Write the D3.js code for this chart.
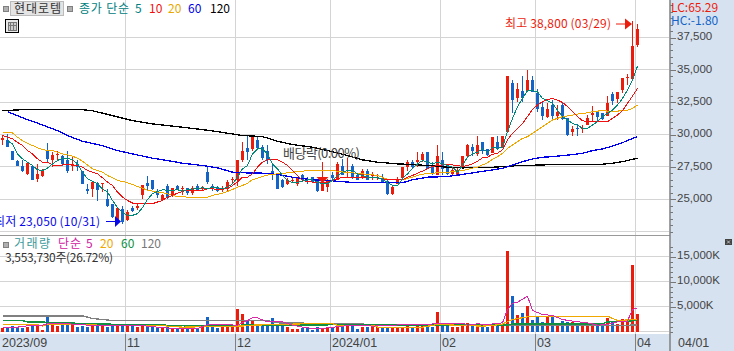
<!DOCTYPE html>
<html>
<head>
<meta charset="utf-8">
<script src="https://cdn.jsdelivr.net/npm/d3@7"></script>
<style>
html, body { margin: 0; padding: 0; background: #fff; overflow: hidden; }
svg { display: block; }
text { font-family: "Noto Sans CJK KR", "Liberation Sans", sans-serif; }
</style>
</head>
<body>
<svg id="chart" width="734" height="351"></svg>
<script>
// daily candles, 128 sessions
var opens = [
  29550,29550,28700,27950,27550,26950,27550,26550,26800,28700,
  28000,28450,28300,28050,27600,27750,27200,25750,25750,26250,
  26200,25050,24600,23350,24250,23400,24350,24300,25300,26250,
  26450,25600,24950,26000,25300,26000,25800,25850,25500,26050,
  25750,27100,26000,25950,25750,25850,26450,26500,28050,28950,
  28900,29550,29050,28750,27200,26850,26450,26150,26450,26200,
  26850,26550,26700,26450,25600,25950,26850,26500,27550,27150,
  27600,26850,26650,27200,26850,26850,26650,26400,25400,26200,
  26650,27450,27850,27850,28050,28650,27600,26900,28050,27600,
  26950,26900,27450,28300,29050,28500,29450,28900,28600,29450,
  29000,30200,34000,32800,33400,33400,34200,33200,32150,31350,
  32250,31450,32250,31300,30200,30500,30400,30750,31500,31800,
  31650,31450,33100,32750,33450,34350,34300,36900];
var highs = [
  30000,30050,28750,28050,28000,27800,27650,27700,27350,29350,
  28650,28750,28450,28700,28350,28050,27200,26200,26400,26300,
  26250,25750,24600,24350,24500,24150,24500,24600,26100,26800,
  26500,25800,25400,26200,25850,26100,26000,25900,26050,26150,
  26050,27450,26200,26050,26000,26450,26750,28050,29400,29900,
  29900,29900,29200,29200,27700,26950,26550,26650,26650,26700,
  26950,26700,26750,26500,27850,26550,27100,27850,28100,28200,
  27700,26950,27350,27350,27100,26950,26950,26500,26000,26700,
  27500,28050,28050,28650,28650,28650,27850,29200,28650,27700,
  27450,27400,28350,29250,29300,29900,29450,28900,29800,29900,
  29900,34500,34200,33950,34500,35000,34500,33500,32550,32400,
  32700,32300,32400,31300,30650,30800,30750,31500,32200,31800,
  31700,32950,33250,33300,34400,34650,38800,38550];
var lows = [
  29150,29050,28000,27550,27100,26900,26450,26300,26750,27800,
  27450,28050,27600,27000,27150,27200,26150,25400,25150,24850,
  25550,24400,23550,23100,23050,23350,24000,24200,25000,25700,
  25700,25100,24850,25050,25150,25750,25350,25350,25350,25600,
  25600,26200,25600,25550,25550,25550,26250,26050,27850,28000,
  28700,28900,28050,27750,26450,25750,25900,26100,26250,26050,
  26450,26150,26250,25550,25600,25550,26500,26450,26850,26700,
  26550,26450,26550,26450,26500,26500,26250,25300,25350,26150,
  26500,27200,27400,27450,27850,27350,26850,26850,26850,26900,
  26900,26850,27350,28200,28350,28300,28500,28300,28600,28800,
  29000,30200,31650,32550,32550,33300,33250,31750,31100,31250,
  31050,31150,31100,29900,29900,29900,30150,30700,31050,31000,
  31100,31400,32250,32450,33200,33800,34200,36800];
var closes = [
  29750,29050,28050,27600,27150,27800,26500,26950,27200,28100,
  28450,28500,27700,27200,27700,27450,26150,25600,26300,25700,
  26250,24450,23600,24350,23250,24000,24100,24500,26100,26000,
  25750,25300,25300,25100,25850,25800,25900,25450,25900,25700,
  25950,26300,25750,25600,25800,26350,26550,28050,28700,28650,
  29900,28950,28150,28000,26850,25750,25950,26450,26500,26650,
  26500,26450,26300,25600,26200,26500,26650,27750,26900,27250,
  26650,26500,27200,26500,26900,26900,26300,25400,25950,26500,
  27450,27850,27450,28000,28500,27350,26950,28350,27350,26950,
  27250,27200,28350,29150,28750,29200,28750,28450,29800,28950,
  29900,34500,32700,33500,32850,34200,33300,32000,31400,31950,
  31450,31750,31200,29950,30450,30400,30500,31250,31700,31350,
  31200,32450,32600,33250,34400,34450,36850,38150];

// price moving averages, one reading per session
var ma5 = [
  null,29530,29270,28500,28120,27860,27600,27270,27220,27400,
  27730,27990,28170,28170,28040,27730,27090,26580,26370,26190,
  25800,25550,24900,24340,23950,23750,23750,23880,24340,24980,
  25420,25600,25730,25680,25680,25730,25620,25750,25780,25830,
  25880,25800,25930,25880,25800,25930,26190,26700,27350,27600,
  28500,28890,28890,28500,27730,27350,26830,26450,26270,26290,
  26400,26500,26500,26320,26190,26190,26450,26830,27090,27220,
  27220,26960,26830,26700,26700,26650,26580,26270,26060,26060,
  26580,26960,27350,27730,27990,27860,27730,27860,27730,27600,
  27470,27090,27600,28250,28500,28630,28890,28630,29010,28930,
  29010,30220,31250,32150,32790,33380,33380,33310,32790,32610,
  32410,31890,31380,31120,30860,30730,30480,30480,30730,30990,
  31380,31630,31890,32280,32790,33430,34210,35290];
var ma10 = [
  29920,29790,29660,29400,29150,28760,28500,28120,27860,27860,
  27650,27600,27650,27680,27650,27600,27470,27220,27090,26960,
  26650,26320,26060,25550,25160,24900,24700,24650,24650,24650,
  24650,24780,24900,25160,25290,25470,25600,25680,25680,25680,
  25680,25800,25800,25750,25800,25800,26060,26320,26700,26700,
  26960,27470,27860,28040,28040,28040,27860,27600,27220,26830,
  26450,26370,26320,26320,26320,26320,26450,26580,26700,26700,
  26700,26650,26650,26650,26650,26650,26580,26500,26500,26500,
  26500,26700,26830,27010,27170,27350,27530,27600,27650,27680,
  27650,27600,27530,27600,27730,27940,28190,28250,28470,28550,
  28810,29580,30090,30480,30860,31380,31940,32280,32530,32710,
  32790,32660,32480,32150,31760,31380,31070,30990,30990,30990,
  30990,30990,31250,31510,31840,32410,32970,33560];
var ma20 = [
  30170,30170,30120,29790,29530,29320,29150,28970,28840,28760,
  28760,28630,28500,28430,28320,28170,27940,27650,27350,27220,
  27090,26830,26650,26450,26370,26270,26140,25980,25860,25680,
  25620,25550,25500,25420,25290,25210,25190,25160,25110,25110,
  25110,25160,25290,25370,25470,25600,25750,25930,26060,26240,
  26500,26630,26750,26860,26910,26960,26990,27040,27090,27140,
  27170,27190,27220,27220,27220,27220,27190,27170,27110,27060,
  27040,26990,26960,26910,26880,26830,26700,26520,26500,26500,
  26500,26600,26700,26830,26930,26990,27010,27040,27090,27090,
  27110,27170,27220,27290,27400,27470,27650,27810,28080,28290,
  28550,28930,29190,29450,29700,29830,30090,30350,30600,30860,
  31120,31250,31380,31430,31500,31580,31630,31680,31760,31810,
  31840,31810,31810,31810,31840,31890,32020,32280];
// long averages move slowly, so [session, price] readings are enough
var ma60 = [
  [1,31770],[5,31150],[8,30740],[11,30300],[13,29910],[16,29480],[20,29140],[23,28760],
  [26,28500],[30,28170],[33,27990],[36,27780],[40,27600],[43,27420],[46,27090],[48,27040],
  [52,27010],[55,26910],[58,26700],[62,26500],[65,26450],[69,26320],[72,26270],[77,26270],
  [80,26270],[82,26500],[85,26700],[89,26750],[92,26910],[95,27090],[98,27260],[100,27390],
  [102,27650],[104,27900],[106,28110],[108,28240],[110,28290],[112,28370],[114,28440],
  [116,28550],[118,28750],[120,28880],[122,29110],[124,29370],[126,29700],[127,29830]];
var ma120 = [
  [0,31840],[4,31920],[16,31920],[18,31840],[22,31460],[26,31070],[30,30820],[33,30690],
  [36,30560],[40,30380],[43,30220],[46,30040],[48,29920],[52,29840],[55,29480],[58,29220],
  [62,29020],[65,28760],[69,28370],[72,28040],[75,27860],[79,27730],[82,27680],[85,27600],
  [89,27470],[92,27420],[97,27440],[102,27570],[108,27650],[120,27700],[122,27780],
  [124,27900],[126,28080],[127,28160]];

// volume in thousands of shares
var volumes = [
  800,930,1200,870,800,870,1200,1070,400,3400,
  1800,1070,1730,1400,1530,1000,1070,1000,1070,1070,
  1270,1000,1600,1270,1600,1070,1270,870,1600,1070,
  870,870,930,870,670,670,670,670,670,730,
  870,3000,870,800,870,870,870,4600,3600,2400,
  2070,1200,1270,1270,2730,1270,1270,1000,600,600,
  730,670,400,1000,730,730,730,1270,870,1800,
  1070,600,1000,1000,870,870,870,800,800,870,
  870,1600,870,1600,1070,1000,1000,4000,1600,1070,
  870,870,1800,1800,1270,1530,1000,870,1600,1270,
  1600,16200,7200,3400,3800,5200,2400,3200,2000,3070,
  3200,1600,2070,1930,1930,1600,1070,1600,1600,1270,
  1070,2730,1930,1530,2600,2270,13400,3550];
var vol5 = [
  [0,870],[3,870],[6,1270],[8,1270],[9,1530],[13,1530],[16,1400],[17,1270],[27,1270],[31,870],
  [34,600],[39,600],[41,1330],[45,1330],[47,1270],[49,2200],[50,2730],[51,2730],[53,1930],[56,1930],
  [58,1270],[60,870],[62,600],[63,530],[65,730],[68,1070],[70,1270],[72,1270],[74,1070],[78,1270],
  [87,1530],[92,1670],[93,1270],[95,1530],[97,1400],[100,1730],[101,4400],[102,5600],[103,5870],[105,7070],
  [106,4200],[108,3400],[110,3200],[112,2400],[114,2070],[117,1730],[119,1270],[121,1400],[123,1930],
  [125,2070],[126,4400],[127,4730]];
var vol20 = [
  [0,1400],[7,1400],[8,1070],[9,1400],[18,1400],[19,1270],[32,1270],[33,1070],[36,870],[48,1100],
  [50,1270],[60,1530],[66,1530],[67,1270],[74,1270],[75,870],[84,870],[87,1400],[96,1070],[98,1200],
  [100,1500],[102,2400],[105,2930],[110,3070],[121,3070],[123,2200],[127,2400]];
var vol60 = [
  [0,2200],[4,2200],[5,1930],[8,1930],[9,1730],[14,1730],[15,1530],[21,1530],[22,1400],[32,1400],
  [33,1200],[36,1200],[37,1070],[46,1070],[48,1270],[64,1270],[66,1400],[70,1400],[73,1270],[101,1270],
  [102,1530],[120,1530],[121,1930],[127,2200]];
var vol120 = [
  [0,3130],[16,3130],[18,2600],[22,2200],[53,2200],[55,1730],[72,1530],[73,1270],[120,1270],[122,1200],[127,1300]];

var monthIdx = [0,25,47,66,88,107,127];
var monthLabels = ["2023/09","11","12","2024/01","02","03","04"];
var priceMajor = [37500,35000,32500,30000,27500,25000];

var red = "#ec1c0c", blue = "#1464c8", panel = "#d6e2f0", grid = "#d4d4d4", ink = "#444";

var svg = d3.select("#chart");

var x = d3.scaleBand().domain(d3.range(128)).range([0,640]);
var cx = function(i) { return x(i) + 2.5; };
var y = d3.scaleLinear().domain([22500,37500]).range([231.5,37.5]);
var yv = d3.scaleLinear().domain([0,15000]).range([331.5,256.5]);

// axis panels
svg.append("rect").attr("x",670).attr("y",0).attr("width",64).attr("height",351).attr("fill",panel);
svg.append("rect").attr("x",0).attr("y",334).attr("width",670).attr("height",17).attr("fill",panel);

// grid
var gridG = svg.append("g").attr("stroke",grid).attr("shape-rendering","crispEdges");
gridG.selectAll(".hp").data(priceMajor.concat([22500])).enter().append("line")
  .attr("x1",0).attr("x2",669).attr("y1",function(d){return y(d);}).attr("y2",function(d){return y(d);});
gridG.selectAll(".hv").data([15000,10000,5000,0]).enter().append("line")
  .attr("x1",0).attr("x2",669).attr("y1",function(d){return yv(d);}).attr("y2",function(d){return yv(d);});
gridG.selectAll(".vg").data(monthIdx.slice(1)).enter().append("line")
  .attr("x1",function(d){return x(d)+0.5;}).attr("x2",function(d){return x(d)+0.5;})
  .attr("y1",0).attr("y2",334).attr("stroke-width",1);

svg.append("line").attr("x1",0).attr("x2",670).attr("y1",235.5).attr("y2",235.5)
  .attr("stroke","#999").attr("stroke-width",1).attr("shape-rendering","crispEdges");

// candles
var isUp = function(i) { return closes[i] >= opens[i]; };
var candles = svg.append("g").attr("shape-rendering","crispEdges");
var candle = candles.selectAll("g").data(d3.range(128)).enter().append("g")
  .attr("fill",function(i){return isUp(i) ? red : blue;});
candle.append("rect")
  .attr("x",function(i){return x(i)+2;}).attr("width",1)
  .attr("y",function(i){return y(highs[i]);})
  .attr("height",function(i){return Math.max(1,y(lows[i])-y(highs[i]));});
candle.append("rect")
  .attr("x",function(i){return x(i)+1;}).attr("width",3)
  .attr("y",function(i){return y(Math.max(opens[i],closes[i]));})
  .attr("height",function(i){return Math.max(1,Math.abs(y(opens[i])-y(closes[i])));});

// volume bars
svg.append("g").attr("shape-rendering","crispEdges").selectAll("rect").data(volumes).enter().append("rect")
  .attr("x",function(d,i){return x(i)+1;}).attr("width",3)
  .attr("y",function(d){return yv(d);})
  .attr("height",function(d){return 332-yv(d);})
  .attr("fill",function(d,i){return isUp(i) ? red : blue;});

// moving averages
var line = d3.line().defined(function(d){return d!=null;})
  .x(function(d,i){return cx(i);}).y(function(d){return y(d);});
var pairLine = d3.line().x(function(d){return cx(d[0]);}).y(function(d){return y(d[1]);});
var volLine = d3.line().x(function(d){return cx(d[0]);}).y(function(d){return yv(d[1]);});

function addPath(d, color, w) {
  svg.append("path").attr("d",d).attr("fill","none").attr("stroke",color)
    .attr("stroke-width",w).attr("shape-rendering","crispEdges");
}
addPath(pairLine(ma120),"#000",1.3);
addPath(pairLine(ma60),"#0000e6",1.3);
addPath(line(ma20),"#f0a800",1);
addPath(line(ma10),"#f01010",1);
addPath(line(ma5),"#008878",1);

addPath(volLine(vol120),"#808080",1.3);
addPath(volLine(vol60),"#109040",1.5);
addPath(volLine(vol20),"#f0a800",1.2);
addPath(volLine(vol5),"#d828a8",1);

// right axes
var priceTicks = d3.range(22000,40001,500);
var volTicks = d3.range(0,17001,1000);
function rightAxis(scale, minor, major, fmt) {
  var g = svg.append("g").attr("transform","translate(670,0)");
  g.call(d3.axisRight(scale).tickValues(minor).tickSize(3).tickFormat(""));
  var m = svg.append("g").attr("transform","translate(670,0)");
  m.call(d3.axisRight(scale).tickValues(major).tickSize(6).tickPadding(1).tickFormat(fmt));
  [g,m].forEach(function(a){
    a.select(".domain").remove();
    a.selectAll("line").attr("stroke","#777").attr("shape-rendering","crispEdges");
  });
  m.selectAll("text").attr("fill",ink).attr("dy","0.2em")
    .style("font-size","11.5px").style("font-family",'"Liberation Sans", sans-serif');
}
rightAxis(y, priceTicks.filter(function(d){return y(d)>0 && y(d)<234;}), priceMajor, d3.format(","));
rightAxis(yv, volTicks, [15000,10000,5000], function(d){return d3.format(",")(d)+"K";});
svg.append("line").attr("x1",670).attr("x2",670).attr("y1",0).attr("y2",351)
  .attr("stroke","#808080").attr("stroke-width",1.5);

// time axis
var timeG = svg.append("g");
timeG.selectAll("line").data(monthIdx.slice(1)).enter().append("line")
  .attr("x1",function(d){return x(d)+0.5;}).attr("x2",function(d){return x(d)+0.5;})
  .attr("y1",334).attr("y2",351).attr("stroke","#808080").attr("shape-rendering","crispEdges");
timeG.selectAll("text").data(monthIdx).enter().append("text")
  .attr("x",function(d){return x(d)+2;}).attr("y",347)
  .attr("fill",ink).style("font-size","12.5px").style("font-family",'"Liberation Sans", sans-serif')
  .text(function(d,i){return monthLabels[i];});
svg.append("text").attr("x",678).attr("y",347).attr("fill",ink)
  .style("font-size","12.5px").style("font-family",'"Liberation Sans", sans-serif').text("04/01");

function label(px, py, str, color, size, anchor) {
  return svg.append("text").attr("x",px).attr("y",py).attr("fill",color)
    .attr("text-anchor",anchor || "start").style("font-size",(size||12)+"px").text(str);
}
function square(px, py) {
  svg.append("rect").attr("x",px).attr("y",py).attr("width",5).attr("height",5)
    .attr("fill","#b0b0b0").attr("stroke","#808080").attr("shape-rendering","crispEdges");
}

// header
square(3,6);
svg.append("rect").attr("x",10.5).attr("y",1.5).attr("width",53).attr("height",14)
  .attr("fill","#e4e4e4").attr("stroke","#bbb").attr("shape-rendering","crispEdges");
label(14,13,"현대로템","#333",12).attr("textLength",47);
square(67,6);
label(79,13,"종가 단순","#008080",12).attr("textLength",50);
label(135,13,"5","#008080");
label(149,13,"10","#f01010");
label(168,13,"20","#e8a800");
label(188,13,"60","#0000e6");
label(210,13,"120","#000");

// table icon
var icon = svg.append("g").attr("shape-rendering","crispEdges");
icon.append("rect").attr("x",5.5).attr("y",19.5).attr("width",13).attr("height",13).attr("fill","#e8e8e8").attr("stroke","#000");
icon.append("rect").attr("x",8).attr("y",22).attr("width",8).attr("height",8).attr("fill","#ccc").attr("stroke","#777");
icon.append("line").attr("x1",10.5).attr("x2",10.5).attr("y1",22).attr("y2",30).attr("stroke","#777");
icon.append("line").attr("x1",13.5).attr("x2",13.5).attr("y1",22).attr("y2",30).attr("stroke","#777");
icon.append("line").attr("x1",8).attr("x2",16).attr("y1",25.5).attr("y2",25.5).attr("stroke","#777");

// corner readouts
label(671,12,"LC:65.29",red,12);
label(671,25,"HC:-1.80",blue,12);

// volume legend
square(3,242);
label(14,248,"거래량","#3a9a9a",12).attr("textLength",36);
label(58,248,"단순","#d020a0",12).attr("textLength",23);
label(86,248,"5","#d020a0");
label(100,248,"20","#f0a800");
label(121,248,"60","#109040");
label(141,248,"120","#777");
label(5,262,"3,553,730주(26.72%)","#333",12).attr("textLength",108);

// annotations
label(505,28,"최고 38,800 (03/29)",red,12).attr("textLength",106);
label(100,226,"최저 23,050 (10/31)","#0808e8",12,"end").attr("textLength",106);
label(283,158,"배당락(0.00%)","#444",13).attr("textLength",77);

function arrow(xs, xm, xe, py, color) {
  svg.append("line").attr("x1",xs).attr("x2",xm).attr("y1",py).attr("y2",py).attr("stroke",color);
  svg.append("path").attr("d","M"+xm+","+(py-5.5)+"L"+xe+","+py+"L"+xm+","+(py+5.5)+"Z").attr("fill",color);
}
arrow(616,625,632,24,red);
arrow(106,115,121,221.5,"#0808e8");

// dividend marker on its session
svg.append("path").attr("fill",red)
  .attr("d","M"+(cx(64)-6)+","+177+"L"+(cx(64)+6)+","+177+"L"+cx(64)+","+183+"Z");

// small collapse button
var btn = svg.append("g");
btn.append("rect").attr("x",725).attr("y",239).attr("width",7).attr("height",6).attr("fill","#444");
btn.append("path").attr("d","M727,240.5L730,243.5M730,240.5L727,243.5").attr("stroke","#ddd").attr("stroke-width",0.8);
</script>
</body>
</html>
